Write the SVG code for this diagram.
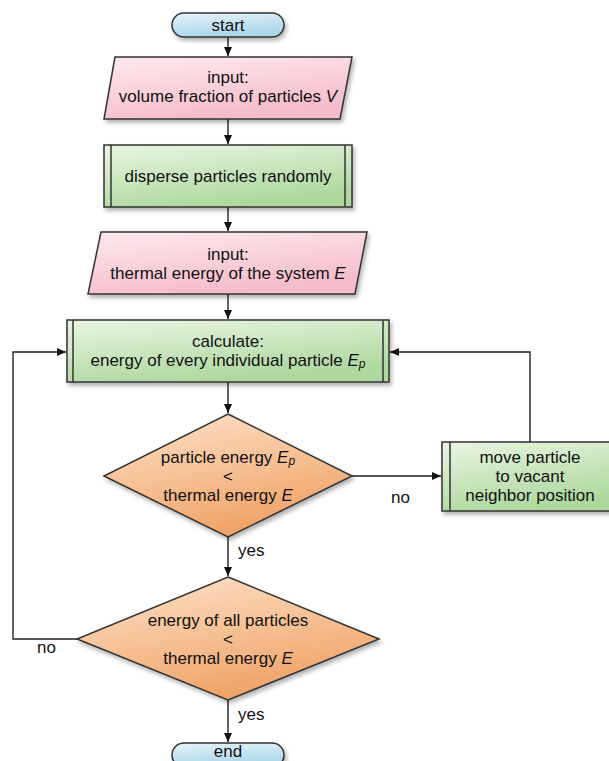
<svg xmlns="http://www.w3.org/2000/svg" width="609" height="761" viewBox="0 0 609 761">
<defs>
<linearGradient id="gBlue" x1="0" y1="0" x2="0.3" y2="1"><stop offset="0" stop-color="#e6f4f9"/><stop offset="1" stop-color="#aad6e8"/></linearGradient>
<linearGradient id="gPink" x1="0" y1="0" x2="0.4" y2="1"><stop offset="0" stop-color="#fdeaee"/><stop offset="1" stop-color="#f5bccb"/></linearGradient>
<linearGradient id="gGreen" x1="0" y1="0" x2="0.4" y2="1"><stop offset="0" stop-color="#eaf5e3"/><stop offset="1" stop-color="#aed89e"/></linearGradient>
<linearGradient id="gOrange" x1="0" y1="0" x2="0.4" y2="1"><stop offset="0" stop-color="#fde3cc"/><stop offset="1" stop-color="#f0a468"/></linearGradient>
<filter id="sh" x="-10%" y="-10%" width="130%" height="140%"><feDropShadow dx="2" dy="3" stdDeviation="2" flood-color="#000" flood-opacity="0.3"/></filter>
<marker id="arr" markerWidth="10" markerHeight="8" refX="9" refY="4" orient="auto" markerUnits="userSpaceOnUse"><path d="M0,0 L9,4 L0,8 z" fill="#111"/></marker>
</defs>
<style>
.s{stroke:#333;stroke-width:1.5}
.t{font-family:"Liberation Sans",Arial,sans-serif;font-size:17px;fill:#111;text-anchor:middle}
.l{font-family:"Liberation Sans",Arial,sans-serif;font-size:17px;fill:#111}
.c{fill:none;stroke:#222;stroke-width:1.4}
.i{font-style:italic}
.sub{font-style:italic;font-size:12px}
</style>
<g id="connectors">
<path class="c" d="M228,37 V56" marker-end="url(#arr)"/>
<path class="c" d="M228,119 V144" marker-end="url(#arr)"/>
<path class="c" d="M228,207 V231" marker-end="url(#arr)"/>
<path class="c" d="M228,294 V319" marker-end="url(#arr)"/>
<path class="c" d="M228,382 V413" marker-end="url(#arr)"/>
<path class="c" d="M352,476 H441" marker-end="url(#arr)"/>
<path class="c" d="M530,442 V352 H390" marker-end="url(#arr)"/>
<path class="c" d="M228,537 V576" marker-end="url(#arr)"/>
<path class="c" d="M77,639 H13 V352 H66" marker-end="url(#arr)"/>
<path class="c" d="M228,700 V742" marker-end="url(#arr)"/>
<text class="l" x="391" y="503">no</text>
<text class="l" x="37" y="653">no</text>
<text class="l" x="238" y="556">yes</text>
<text class="l" x="238" y="720">yes</text>
</g>
<g id="start">
<rect class="s" x="172" y="13" width="112" height="24" rx="12" fill="url(#gBlue)" filter="url(#sh)"/>
<text class="t" x="228" y="31">start</text>
</g>
<g id="input1">
<path class="s" d="M115,57 H352 L340,119 H104 Z" fill="url(#gPink)" filter="url(#sh)"/>
<text class="t" x="228" y="83">input:</text>
<text class="t" x="228" y="102">volume fraction of particles <tspan class="i">V</tspan></text>
</g>
<g id="disperse">
<rect class="s" x="104" y="145" width="248" height="62" fill="url(#gGreen)" filter="url(#sh)"/>
<path class="s" d="M111,145 V207 M345,145 V207" fill="none"/>
<text class="t" x="228" y="182">disperse particles randomly</text>
</g>
<g id="input2">
<path class="s" d="M101,232 H367 L355,294 H88 Z" fill="url(#gPink)" filter="url(#sh)"/>
<text class="t" x="228" y="260">input:</text>
<text class="t" x="228" y="279">thermal energy of the system <tspan class="i">E</tspan></text>
</g>
<g id="calculate">
<rect class="s" x="67" y="320" width="322" height="62" fill="url(#gGreen)" filter="url(#sh)"/>
<path class="s" d="M73,320 V382 M383,320 V382" fill="none"/>
<text class="t" x="228" y="347">calculate:</text>
<text class="t" x="228" y="366">energy of every individual particle <tspan class="i">E</tspan><tspan class="sub" dy="2">p</tspan></text>
</g>
<g id="decision1">
<path class="s" d="M228,414 L352,476 L228,537 L104,476 Z" fill="url(#gOrange)" filter="url(#sh)"/>
<text class="t" x="228" y="463">particle energy <tspan class="i">E</tspan><tspan class="sub" dy="2">p</tspan></text>
<text class="t" x="228" y="482">&lt;</text>
<text class="t" x="228" y="501">thermal energy <tspan class="i">E</tspan></text>
</g>
<g id="move">
<rect class="s" x="442" y="442" width="176" height="69" fill="url(#gGreen)" filter="url(#sh)"/>
<path class="s" d="M450,442 V511" fill="none"/>
<text class="t" x="530" y="463">move particle</text>
<text class="t" x="530" y="482">to vacant</text>
<text class="t" x="530" y="501">neighbor position</text>
</g>
<g id="decision2">
<path class="s" d="M228,577 L379,639 L228,700 L77,639 Z" fill="url(#gOrange)" filter="url(#sh)"/>
<text class="t" x="228" y="626">energy of all particles</text>
<text class="t" x="228" y="645">&lt;</text>
<text class="t" x="228" y="664">thermal energy <tspan class="i">E</tspan></text>
</g>
<g id="end">
<rect class="s" x="172" y="743" width="112" height="24" rx="12" fill="url(#gBlue)" filter="url(#sh)"/>
<text class="t" x="228" y="757">end</text>
</g>
</svg>
